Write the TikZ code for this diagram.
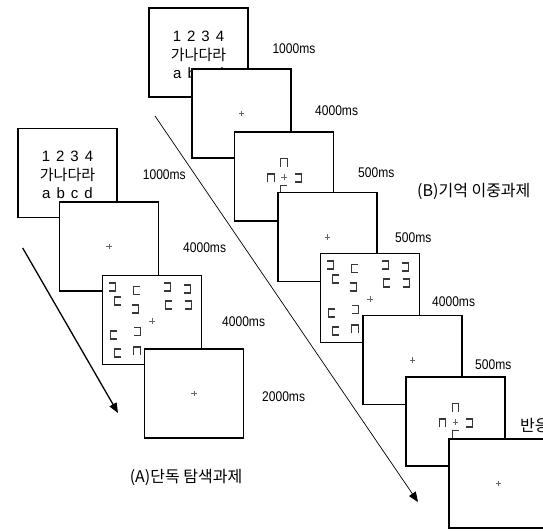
\documentclass[tikz,border=0pt]{standalone}
\usepackage{fontspec}
\setmainfont{Liberation Sans}
\newfontfamily\kofont{Noto Sans CJK KR}
\newfontfamily\msfont[FakeStretch=0.86]{Liberation Sans}
\usepackage{tikz}
\usetikzlibrary{calc,arrows.meta,positioning}
\colorlet{brkC}{black!78}
\colorlet{fixC}{black!60}
\newcommand{\gap}{\hspace{6pt}}

\tikzset{
  screen/.style={draw, line width=1.2pt, fill=white, minimum width=99pt, minimum height=89pt, inner sep=0pt},
  dur/.style={anchor=west, inner sep=0pt, font=\msfont\fontsize{14}{14}\selectfont},
  cond/.style={inner sep=0pt, font=\kofont\fontsize{16}{16}\selectfont},
  memo/.style={align=center, inner sep=0pt, font=\fontsize{15}{18.5}\selectfont},
  brk/.style={draw=brkC, line width=1.05pt},
  gapL/.pic={\draw[brk] (-3.3,-4) -- (3.3,-4) -- (3.3,4) -- (-3.3,4);},
  gapR/.pic={\draw[brk] (3.3,-4) -- (-3.3,-4) -- (-3.3,4) -- (3.3,4);},
  gapD/.pic={\draw[brk] (-3.3,4.3) -- (-3.3,-4) -- (3.3,-4) -- (3.3,4.3);},
  fix/.pic={\draw[fixC, line width=0.5pt] (-2.6,0) -- (2.6,0) (0,-2.6) -- (0,2.6);},
}

% search display: twelve open squares round the fixation cross
\newcommand{\searchitems}{%
  \foreach \p in {(-40,-33),(15,-33),(35,-31),(-16.5,-11),(36,-15),(-14.5,11.5)}
    \pic at \p {gapL};
  \foreach \p in {(-15,-29.5),(-34,-19),(17,-15),(-38,15),(-34,33)}
    \pic at \p {gapR};
  \pic at (-15,31) {gapD};
  \pic at (0,1) {fix};
}
% cue display: four squares round the fixation cross
\newcommand{\cueitems}{%
  \pic at (0,-14) {gapD};
  \pic at (-13,1.5) {gapD};
  \pic at (14,1.5) {gapL};
  \pic at (0,13) {gapR};
  \pic at (0,0.5) {fix};
}

\begin{document}
\begin{tikzpicture}[x=1pt, y=-1pt]
  \useasboundingbox (0,0) rectangle (543,530);
  \clip (0,0) rectangle (543,530);

  % Arrows (time runs down to the right)
  \coordinate (aS) at (22.7,248);
  \coordinate (aE) at (118,413);
  \coordinate (bS) at (155,116);
  \coordinate (bE) at (418,502);
  \draw[line width=1.3pt, -{Triangle[length=10pt,width=8pt]}] (aS) -- (aE);
  \draw[line width=0.7pt, -{Triangle[length=10pt,width=8pt]}] (bS) -- (bE);

  % (A) single search task
  \node[screen] (A1) at (67.5,173) {};
  \node[memo] (mA) at (67.5,175) {1\gap2\gap3\gap4\\{\kofont 가나다라}\\a\gap b\gap c\gap d};
  \node[screen] (A2) at (109,246.5) {};
  \pic at (A2.center) {fix};
  \node[screen] (A3) at (152,320) {};
  \begin{scope}[shift={(A3.center)}]
    \searchitems
  \end{scope}
  \node[screen] (A4) at (194,393.5) {};
  \pic at (A4.center) {fix};

  \node[dur] (tA1) at (142.7,175) {1000ms};
  \node[dur] (tA2) at (183,248) {4000ms};
  \node[dur] (tA3) at (222,322) {4000ms};
  \node[dur] (tA4) at (262,397) {2000ms};
  \node[cond] (cA) at (186,477) {(A)단독 탐색과제};

  % (B) memory dual task
  \node[screen] (B1) at (198.5,52.5) {};
  \node[memo] (mB) at (198.5,55) {1\gap2\gap3\gap4\\{\kofont 가나다라}\\a\gap b\gap c\gap d};
  \node[screen] (B2) at (241.5,113.5) {};
  \pic at (B2.center) {fix};
  \node[screen] (B3) at (284,176.5) {};
  \begin{scope}[shift={(B3.center)}]
    \cueitems
  \end{scope}
  \node[screen] (B4) at (327.5,237) {};
  \pic at (B4.center) {fix};
  \node[screen] (B5) at (370,298) {};
  \begin{scope}[shift={(B5.center)}]
    \searchitems
  \end{scope}
  \node[screen] (B6) at (412.5,360) {};
  \pic at (B6.center) {fix};
  \node[screen] (B7) at (455.5,421.5) {};
  \begin{scope}[shift={(B7.center)}]
    \cueitems
  \end{scope}
  \node[screen] (B8) at (498.5,483.5) {};
  \pic at (B8.center) {fix};

  \node[dur] (tB1) at (272.3,49) {1000ms};
  \node[dur] (tB2) at (315,110.7) {4000ms};
  \node[dur] (tB3) at (358,173) {500ms};
  \node[dur] (tB4) at (395,238) {500ms};
  \node[dur] (tB5) at (432,302) {4000ms};
  \node[dur] (tB6) at (475,365) {500ms};
  \node[cond, anchor=west] (tB7) at (520,426) {반응};
  \node[cond, anchor=west] (cB) at (417,191.5) {(B)기억 이중과제};
\end{tikzpicture}
\end{document}
